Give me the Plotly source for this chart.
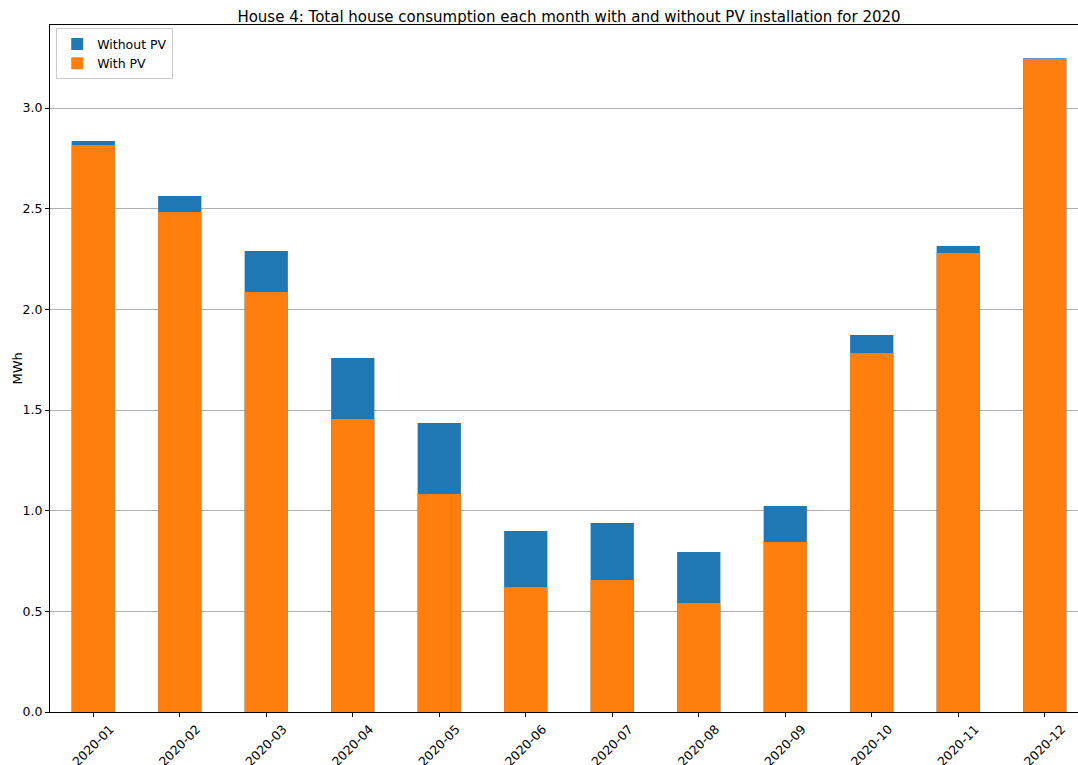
import plotly.graph_objects as go

months = ["2020-01", "2020-02", "2020-03", "2020-04", "2020-05", "2020-06",
          "2020-07", "2020-08", "2020-09", "2020-10", "2020-11", "2020-12"]
without_pv = [2.836, 2.563, 2.290, 1.758, 1.435, 0.899, 0.939, 0.795, 1.023, 1.873, 2.315, 3.247]
with_pv = [2.816, 2.483, 2.086, 1.455, 1.083, 0.621, 0.656, 0.541, 0.844, 1.783, 2.280, 3.243]
y_ticks = [0.0, 0.5, 1.0, 1.5, 2.0, 2.5, 3.0]

fig = go.Figure()
fig.add_trace(go.Bar(x=months, y=without_pv, name="Without PV", marker_color="#1f77b4",
                     marker_line_width=0, width=0.5))
fig.add_trace(go.Bar(x=months, y=with_pv, name="With PV", marker_color="#ff7f0e",
                     marker_line_width=0, width=0.5))

font = "DejaVu Sans"
fig.update_layout(
    barmode="overlay",
    width=1088, height=765,
    margin=dict(l=50, r=0, t=25, b=53),
    paper_bgcolor="white", plot_bgcolor="white",
    font=dict(family=font, size=13, color="black"),
    title=dict(text="House 4: Total house consumption each month with and without PV installation for 2020",
               x=0.5, xanchor="center", xref="paper", y=1 - 17/765, yanchor="middle",
               font=dict(family=font, size=15, color="black")),
    showlegend=True,
    legend=dict(x=0.006, y=0.995, xanchor="left", yanchor="top",
                bgcolor="rgba(255,255,255,0.8)", bordercolor="#cccccc", borderwidth=1,
                font=dict(family=font, size=12.5), traceorder="normal",
                itemsizing="constant", tracegroupgap=0),
    bargap=0.5,
    annotations=[dict(text="MWh", textangle=-90, xref="paper", yref="paper",
                      x=(17 - 50) / 1038, y=0.5, xanchor="center", yanchor="middle",
                      showarrow=False, font=dict(family=font, size=13, color="black"))],
)
fig.update_xaxes(
    type="category", range=[-0.5, 11.5], automargin=False,
    showline=True, linecolor="black", linewidth=1, mirror=True,
    ticks="outside", ticklen=4, tickcolor="black", tickangle=-45,
    ticklabelshift=17,
    showgrid=False, tickfont=dict(family=font, size=12.5),
)
fig.update_yaxes(
    range=[0, (712 - 25) / 201.33], automargin=False,
    tickvals=y_ticks, ticktext=[f"{v:.1f}" for v in y_ticks],
    showline=True, linecolor="black", linewidth=1, mirror=True,
    ticks="outside", ticklen=4, tickcolor="black",
    showgrid=True, gridcolor="#b0b0b0", gridwidth=1, zeroline=False,
    tickfont=dict(family=font, size=12.5),
)

fig.write_html("out.html", config={"displayModeBar": False},
               post_script="document.body.style.margin='0';document.body.style.overflow='hidden';")
